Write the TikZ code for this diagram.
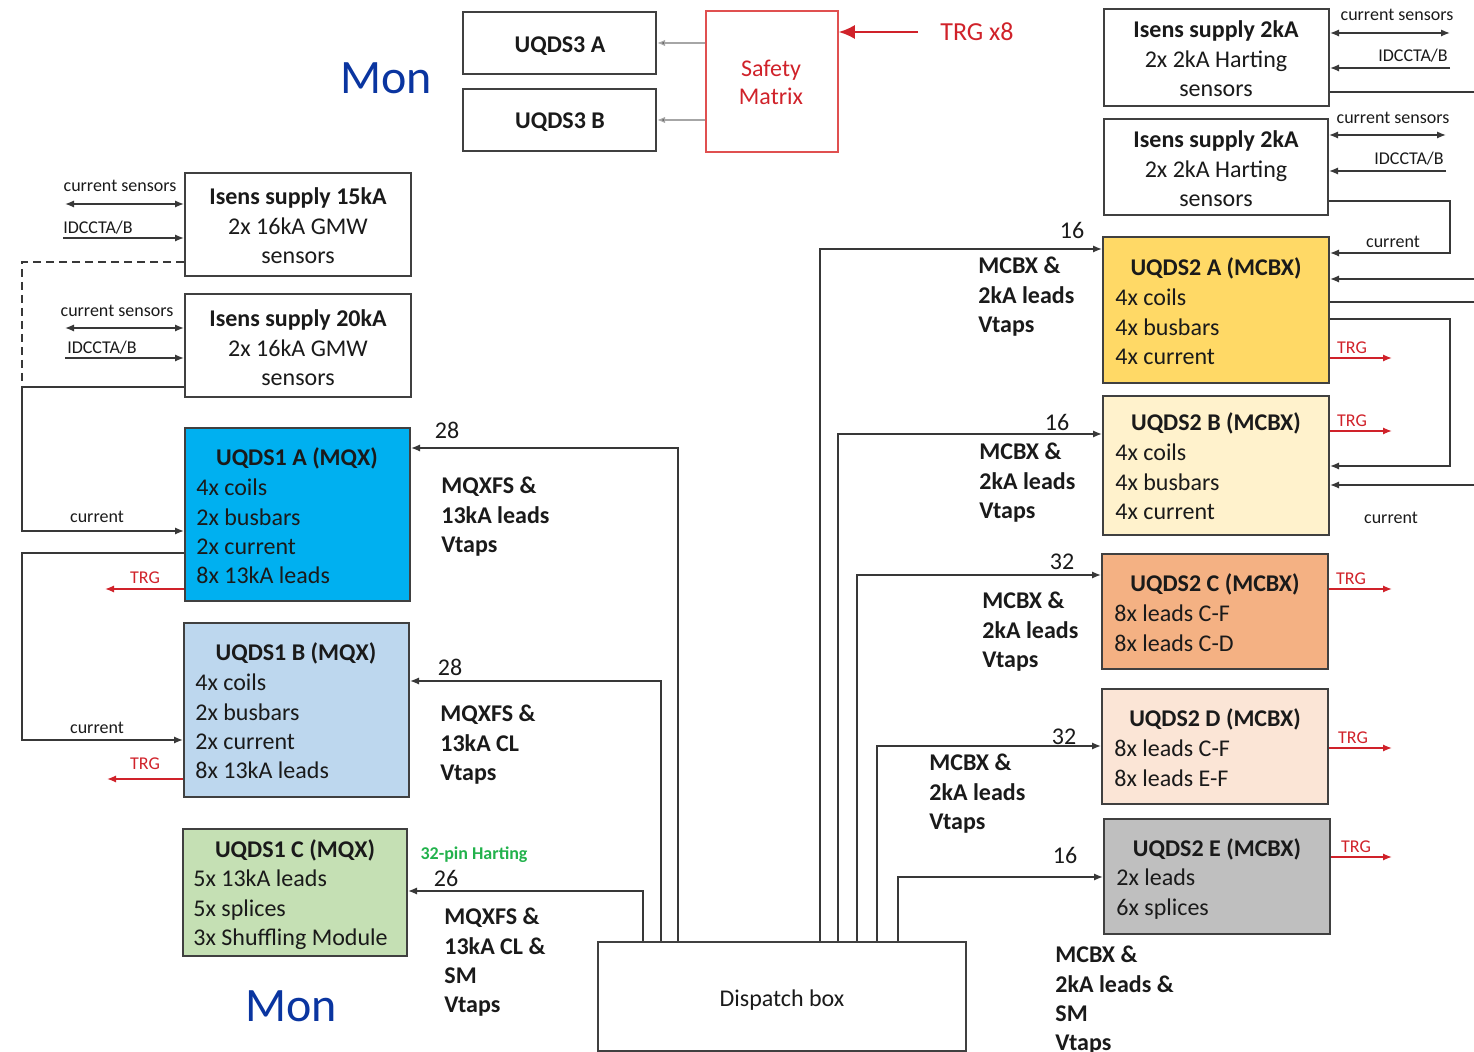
\documentclass[tikz,border=0pt]{standalone}
\usepackage{fontspec}
\setmainfont{Carlito}
\usetikzlibrary{arrows.meta,fit}

\definecolor{ink}{HTML}{1A1A1A}
\definecolor{edge}{HTML}{404040}
\definecolor{wire}{HTML}{383838}
\definecolor{trgred}{HTML}{D0222A}
\definecolor{smred}{HTML}{E05050}
\definecolor{monblue}{HTML}{0A35A0}
\definecolor{pingreen}{HTML}{22B24C}
\definecolor{cCyan}{HTML}{00B0F0}
\definecolor{cLBlue}{HTML}{BDD7EE}
\definecolor{cLGreen}{HTML}{C5E0B4}
\definecolor{cGold}{HTML}{FFD966}
\definecolor{cCream}{HTML}{FFF2CC}
\definecolor{cOrange}{HTML}{F4B183}
\definecolor{cPeach}{HTML}{FBE5D6}
\definecolor{cGray}{HTML}{BFBFBF}

\begin{document}
% Multi-line text nodes are anchored at the baseline of their last line.
\begin{tikzpicture}[x=0.5pt,y=-0.5pt,
  txt/.style={inner sep=0pt,yshift=-1pt},
  box/.style={draw=edge,line width=1pt,inner sep=0pt},
  ttl/.style={txt,font=\bfseries\fontsize{12}{14.6}\selectfont,anchor=base,text=ink},
  body/.style={txt,font=\fontsize{12}{14.6}\selectfont,align=left,anchor=base west,text=ink},
  isens/.style={txt,font=\fontsize{12}{14.8}\selectfont,align=center,anchor=base,text=ink},
  sig/.style={txt,font=\bfseries\fontsize{12}{14.6}\selectfont,align=left,anchor=base west,text=ink},
  num/.style={txt,font=\fontsize{12}{14}\selectfont,anchor=base,text=ink},
  small/.style={txt,font=\fontsize{9}{11}\selectfont,anchor=base,text=ink},
  trglbl/.style={txt,font=\fontsize{9}{11}\selectfont,anchor=base,text=trgred},
  mon/.style={font=\fontsize{24}{28}\selectfont,anchor=base,inner sep=0pt,text=monblue},
  conn/.style={draw=wire,line width=0.75pt},
  arr/.style={conn,-{Latex[length=4.5pt,width=3.6pt]}},
  dbl/.style={conn,{Latex[length=4.5pt,width=3.6pt]}-{Latex[length=4.5pt,width=3.6pt]}},
  trg/.style={draw=trgred,line width=0.8pt,-{Latex[length=4.5pt,width=3.6pt]}},
]
\useasboundingbox (0,0) rectangle (1474,1052);

% ---------- boxes ----------
\node[box,fit={(185,173) (411,276)}] (is15) {};
\node[box,fit={(185,294) (411,397)}] (is20) {};
\node[box,fill=cCyan,fit={(185,428) (410,601)}] (uqs1a) {};
\node[box,fill=cLBlue,fit={(184,623) (409,797)}] (uqs1b) {};
\node[box,fill=cLGreen,fit={(183,829) (407,956)}] (uqs1c) {};
\node[box,fit={(463,12) (656,74)}] (uqds3a) {};
\node[box,fit={(463,89) (656,151)}] (uqds3b) {};
\node[draw=smred,line width=0.8pt,inner sep=0pt,fit={(706,11) (838,152)}] (safety) {};
\node[box,fit={(1104,9) (1329,106)}] (is2a) {};
\node[box,fit={(1104,119) (1328,215)}] (is2b) {};
\node[box,fill=cGold,fit={(1103,237) (1329,383)}] (uqs2a) {};
\node[box,fill=cCream,fit={(1103,396) (1329,535)}] (uqs2b) {};
\node[box,fill=cOrange,fit={(1102,554) (1328,669)}] (uqs2c) {};
\node[box,fill=cPeach,fit={(1102,689) (1328,804)}] (uqs2d) {};
\node[box,fill=cGray,fit={(1104,819) (1330,934)}] (uqs2e) {};
\node[box,fit={(598,942) (966,1051)}] (dispatch) {};

% ---------- box texts ----------
\node[isens] (is15-t) at (298,262) {\textbf{Isens supply 15kA}\\2x 16kA GMW\\sensors};
\node[isens] (is20-t) at (298,384) {\textbf{Isens supply 20kA}\\2x 16kA GMW\\sensors};
\node[isens] (is2a-t) at (1216,95) {\textbf{Isens supply 2kA}\\2x 2kA Harting\\sensors};
\node[isens] (is2b-t) at (1216,205) {\textbf{Isens supply 2kA}\\2x 2kA Harting\\sensors};

\node[ttl] (uqs1a-t) at (297,464) {UQDS1 A (MQX)};
\node[body] (uqs1a-b) at (196,581.6) {4x coils\\2x busbars\\2x current\\8x 13kA leads};
\node[ttl] (uqs1b-t) at (296,659) {UQDS1 B (MQX)};
\node[body] (uqs1b-b) at (195,776.6) {4x coils\\2x busbars\\2x current\\8x 13kA leads};
\node[ttl] (uqs1c-t) at (295,856) {UQDS1 C (MQX)};
\node[body] (uqs1c-b) at (193,943.4) {5x 13kA leads\\5x splices\\3x Shuffling Module};

\node[ttl] (uqds3a-t) at (560,51) {UQDS3 A};
\node[ttl] (uqds3b-t) at (560,127) {UQDS3 B};
\node[txt,font=\fontsize{12}{14}\selectfont,align=center,anchor=base,text=trgred] (safety-t) at (771,103) {Safety\\Matrix};
\node[txt,font=\fontsize{13}{15}\selectfont,anchor=base west,text=trgred] (trgx8) at (940,39) {TRG x8};

\node[ttl] (uqs2a-t) at (1216,274) {UQDS2 A (MCBX)};
\node[body] (uqs2a-b) at (1115,362.4) {4x coils\\4x busbars\\4x current};
\node[ttl] (uqs2b-t) at (1216,429) {UQDS2 B (MCBX)};
\node[body] (uqs2b-b) at (1115,517.4) {4x coils\\4x busbars\\4x current};
\node[ttl] (uqs2c-t) at (1215,590) {UQDS2 C (MCBX)};
\node[body] (uqs2c-b) at (1114,649.2) {8x leads C-F\\8x leads C-D};
\node[ttl] (uqs2d-t) at (1215,725) {UQDS2 D (MCBX)};
\node[body] (uqs2d-b) at (1114,784.2) {8x leads C-F\\8x leads E-F};
\node[ttl] (uqs2e-t) at (1217,855) {UQDS2 E (MCBX)};
\node[body] (uqs2e-b) at (1116,913.2) {2x leads\\6x splices};

\node[txt,font=\fontsize{12}{14}\selectfont,anchor=base,text=ink] (dispatch-t) at (782,1005) {Dispatch box};

\node[mon] (mon1) at (386,94) {Mon};
\node[mon] (mon2) at (291,1022) {Mon};

% ---------- signal group labels ----------
\node[sig] (mq1) at (441,550.4) {MQXFS \&\\13kA leads\\Vtaps};
\node[sig] (mq2) at (440,778.4) {MQXFS \&\\13kA CL\\Vtaps};
\node[sig] (mq3) at (444,1010.6) {MQXFS \&\\13kA CL \&\\SM\\Vtaps};
\node[sig] (mc1) at (978,330.4) {MCBX \&\\2kA leads\\Vtaps};
\node[sig] (mc2) at (979,516.4) {MCBX \&\\2kA leads\\Vtaps};
\node[sig] (mc3) at (982,665.4) {MCBX \&\\2kA leads\\Vtaps};
\node[sig] (mc4) at (929,827.4) {MCBX \&\\2kA leads\\Vtaps};
\node[sig] (mc5) at (1055,1048.6) {MCBX \&\\2kA leads \&\\SM\\Vtaps};

\node[num] (n1) at (447,437) {28};
\node[num] (n2) at (450,674) {28};
\node[num] (n3) at (446,885) {26};
\node[txt,font=\bfseries\fontsize{9}{11}\selectfont,anchor=base,text=pingreen] (harting) at (474,858) {32-pin Harting};
\node[num] (n4) at (1072,237) {16};
\node[num] (n5) at (1057,429) {16};
\node[num] (n6) at (1062,568) {32};
\node[num] (n7) at (1064,743) {32};
\node[num] (n8) at (1065,862) {16};

% ---------- small labels ----------
\node[small] (cs1) at (120,190) {current sensors};
\node[small] (id1) at (98,232) {IDCCTA/B};
\node[small] (cs2) at (117,315) {current sensors};
\node[small] (id2) at (102,352) {IDCCTA/B};
\node[small] (cur1) at (97,521) {current};
\node[small] (cur2) at (97,732) {current};
\node[small] (cs3) at (1397,19) {current sensors};
\node[small] (id3) at (1413,60) {IDCCTA/B};
\node[small] (cs4) at (1393,122) {current sensors};
\node[small] (id4) at (1409,163) {IDCCTA/B};
\node[small] (cur3) at (1393,246) {current};
\node[small] (cur4) at (1391,522) {current};

\node[trglbl] (t1) at (145,582) {TRG};
\node[trglbl] (t2) at (145,768) {TRG};
\node[trglbl] (t3) at (1352,352) {TRG};
\node[trglbl] (t4) at (1352,425) {TRG};
\node[trglbl] (t5) at (1351,583) {TRG};
\node[trglbl] (t6) at (1353,742) {TRG};
\node[trglbl] (t7) at (1356,851) {TRG};

% ---------- free ends ----------
\coordinate (lcs1) at (65,204);
\coordinate (lid1) at (63,238);
\coordinate (lcs2) at (65,328);
\coordinate (lid2) at (65,358);
\coordinate (ljoin) at (22,387);
\coordinate (ltrg1) at (105,589);
\coordinate (ltrg2) at (107,779);
\coordinate (trgsrc) at (918,32);
\coordinate (rcs1) at (1450,33);
\coordinate (rid1) at (1450,68);
\coordinate (rout1) at (1474,92);
\coordinate (rcs2) at (1446,135);
\coordinate (rid2) at (1446,171);
\coordinate (rin1) at (1474,279);
\coordinate (rout2) at (1474,302);
\coordinate (rin2) at (1474,485);

% ---------- left side connectors ----------
\draw[dbl] (lcs1) -- (lcs1 -| is15.west);
\draw[arr] (lid1) -- (lid1 -| is15.west);
\draw[dbl] (lcs2) -- (lcs2 -| is20.west);
\draw[arr] (lid2) -- (lid2 -| is20.west);
\draw[conn,dash pattern=on 4pt off 2.5pt] (is15.west |- 0,262) -| (ljoin);
\draw[arr] (is20.west |- ljoin) -- (ljoin) |- (uqs1a.west |- 0,531);
\draw[arr] (uqs1a.west |- 0,553) -- (22,553) |- (uqs1b.west |- 0,740);
\draw[trg] (uqs1a.west |- ltrg1) -- (ltrg1);
\draw[trg] (uqs1b.west |- ltrg2) -- (ltrg2);

% ---------- dispatch box to UQDS1 ----------
\draw[arr] (dispatch.north -| 678,0) |- (uqs1a.east |- 0,448);
\draw[arr] (dispatch.north -| 661,0) |- (uqs1b.east |- 0,681);
\draw[arr] (dispatch.north -| 643,0) |- (uqs1c.east |- 0,891);

% ---------- dispatch box to UQDS2 ----------
\draw[arr] (dispatch.north -| 820,0) |- (uqs2a.west |- 0,249);
\draw[arr] (dispatch.north -| 838,0) |- (uqs2b.west |- 0,434);
\draw[arr] (dispatch.north -| 857,0) |- (uqs2c.west |- 0,575);
\draw[arr] (dispatch.north -| 877,0) |- (uqs2d.west |- 0,746);
\draw[arr] (dispatch.north -| 898,0) |- (uqs2e.west |- 0,877);

% ---------- safety matrix ----------
\draw[draw=gray!70,line width=0.7pt,-{Latex[length=4pt,width=3.2pt,fill=black]}] (safety.west |- uqds3a.east) -- (uqds3a.east);
\draw[draw=gray!70,line width=0.7pt,-{Latex[length=4pt,width=3.2pt,fill=black]}] (safety.west |- uqds3b.east) -- (uqds3b.east);
\draw[draw=trgred,line width=0.9pt,-{Latex[length=8pt,width=7pt]}] (trgsrc) -- (trgsrc -| safety.east);

% ---------- right side connectors ----------
\draw[dbl] (rcs1 -| is2a.east) -- (rcs1);
\draw[arr] (rid1) -- (rid1 -| is2a.east);
\draw[conn] (is2a.east |- rout1) -- (rout1);
\draw[dbl] (rcs2 -| is2b.east) -- (rcs2);
\draw[arr] (rid2) -- (rid2 -| is2b.east);
\draw[arr] (is2b.east |- 0,201) -- (1450,201) |- (uqs2a.east |- 0,253);
\draw[arr] (rin1) -- (rin1 -| uqs2a.east);
\draw[conn] (uqs2a.east |- rout2) -- (rout2);
\draw[arr] (uqs2a.east |- 0,319) -- (1450,319) |- (uqs2b.east |- 0,466);
\draw[arr] (rin2) -- (rin2 -| uqs2b.east);

\draw[trg] (uqs2a.east |- 0,358) -- (1392,358);
\draw[trg] (uqs2b.east |- 0,431) -- (1392,431);
\draw[trg] (uqs2c.east |- 0,589) -- (1392,589);
\draw[trg] (uqs2d.east |- 0,748) -- (1392,748);
\draw[trg] (uqs2e.east |- 0,857) -- (1392,857);
\end{tikzpicture}
\end{document}
